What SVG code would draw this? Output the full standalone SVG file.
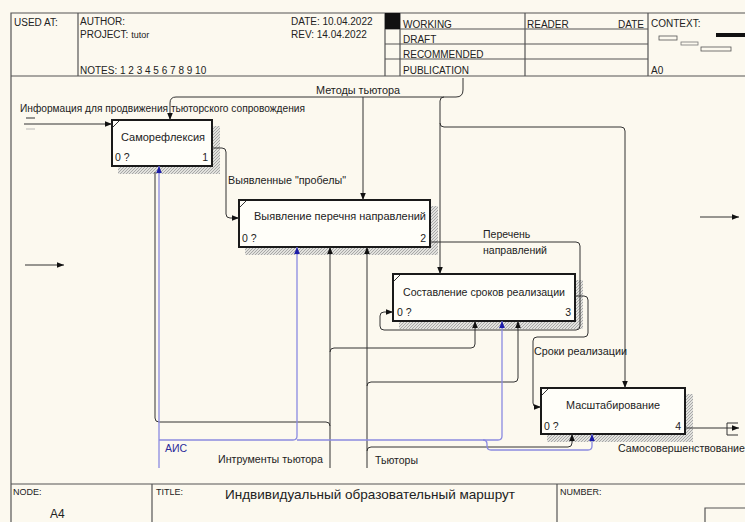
<svg xmlns="http://www.w3.org/2000/svg" width="745" height="522" viewBox="0 0 745 522">
<defs>
<style>
text{font-family:"Liberation Sans",Arial,sans-serif;fill:#222;}
.hd{font-size:10px;}
.sm{font-size:9px;}
.lb{font-size:10.5px;}
.bx{font-size:11px;text-anchor:middle;}
.frm{stroke:#555;stroke-width:1.2;fill:none;}
.box{fill:#fffef9;stroke:#1a1a1a;stroke-width:2;}
.shd{fill:url(#hatch);stroke:none;}
.c{fill:none;stroke:#333;stroke-width:1;}
.cb{fill:none;stroke:#8a8ae0;stroke-width:1.3;}
</style>
<pattern id="hatch" width="3" height="3" patternUnits="userSpaceOnUse">
<rect width="3" height="3" fill="#e2e2de"/>
<path d="M0,3 L3,0" stroke="#999" stroke-width="0.8"/>
</pattern>
<marker id="ah" viewBox="0 0 10 10" refX="10" refY="5" markerWidth="7" markerHeight="7" orient="auto" markerUnits="userSpaceOnUse">
<path d="M0,1 L10,5 L0,9 Z" fill="#111"/>
</marker>
<marker id="ahb" viewBox="0 0 10 10" refX="10" refY="5" markerWidth="7" markerHeight="7" orient="auto" markerUnits="userSpaceOnUse">
<path d="M0,1 L10,5 L0,9 Z" fill="#1c1ca8"/>
</marker>
</defs>
<rect width="745" height="522" fill="#fcf9ef"/>

<g id="frame">
<path class="frm" d="M11,522 V13 H745"/>
<path class="frm" d="M11,76 H745"/>
<path class="frm" d="M11,484 H745"/>
<path class="frm" d="M78,13 V76 M385,13 V76 M400,13 V76 M525,13 V76 M648,13 V76"/>
<path class="frm" d="M385,29 H648 M385,44 H648 M385,59 H648"/>
<rect x="385" y="13" width="15" height="16" fill="#111"/>
<path class="frm" d="M152,484 V522 M557,484 V522"/>
<path class="frm" d="M705,522 V508 H745"/>
<text class="hd" x="14" y="26">USED AT:</text>
<text class="hd" x="80" y="25">AUTHOR:</text>
<text class="hd" x="80" y="38">PROJECT: <tspan class="sm">tutor</tspan></text>
<text class="hd" x="80" y="74">NOTES:  1  2  3  4  5  6  7  8  9  10</text>
<text class="hd" x="291" y="25">DATE:  10.04.2022</text>
<text class="hd" x="291" y="38">REV:    14.04.2022</text>
<text class="hd" x="403" y="28">WORKING</text>
<text class="hd" x="403" y="43">DRAFT</text>
<text class="hd" x="403" y="58">RECOMMENDED</text>
<text class="hd" x="403" y="74">PUBLICATION</text>
<text class="hd" x="527" y="28">READER</text>
<text class="hd" x="618" y="28">DATE</text>
<text class="hd" x="651" y="27">CONTEXT:</text>
<text class="hd" x="651" y="74">A0</text>
<rect x="659" y="36" width="18" height="4" fill="none" stroke="#555" stroke-width="0.8"/>
<rect x="681" y="42" width="17" height="3" fill="none" stroke="#777" stroke-width="0.8"/>
<rect x="701" y="47" width="30" height="4" fill="none" stroke="#555" stroke-width="0.8"/>
<rect x="716" y="33" width="29" height="4" fill="#111"/>
<text class="sm" x="13" y="495">NODE:</text>
<text x="50" y="518" style="font-size:12px">A4</text>
<text class="sm" x="156" y="495">TITLE:</text>
<text x="225" y="499" style="font-size:13px" textLength="290" lengthAdjust="spacingAndGlyphs">Индвивидуальный образовательный маршрут</text>
<text class="sm" x="560" y="495">NUMBER:</text>
</g>

<g id="node-1">
<path class="shd" d="M212,126 H220 V174 H118 V166 H212 Z"/>
<rect class="box" x="112" y="120" width="100" height="46"/>
<path d="M113,127 L119,121" stroke="#333" stroke-width="1"/>
<text class="bx" x="163" y="141">Саморефлексия</text>
<text class="lb" x="115" y="161">0 ?</text>
<text class="lb" x="208" y="161" text-anchor="end">1</text>
</g>

<g id="node-2">
<path class="shd" d="M430,206 H438 V255 H245 V247 H430 Z"/>
<rect class="box" x="239" y="200" width="191" height="47"/>
<path d="M240,207 L246,201" stroke="#333" stroke-width="1"/>
<text class="bx" x="340" y="220" textLength="172" lengthAdjust="spacingAndGlyphs">Выявление перечня направлений</text>
<text class="lb" x="242" y="242">0 ?</text>
<text class="lb" x="426" y="242" text-anchor="end">2</text>
</g>

<g id="node-3">
<path class="shd" d="M575,280 H583 V329 H399 V321 H575 Z"/>
<rect class="box" x="393" y="274" width="182" height="47"/>
<path d="M394,281 L400,275" stroke="#333" stroke-width="1"/>
<text class="bx" x="484" y="296" textLength="162" lengthAdjust="spacingAndGlyphs">Составление сроков реализации</text>
<text class="lb" x="397" y="316">0 ?</text>
<text class="lb" x="571" y="316" text-anchor="end">3</text>
</g>

<g id="node-4">
<path class="shd" d="M685,394 H693 V442 H547 V434 H685 Z"/>
<rect class="box" x="541" y="388" width="144" height="46"/>
<path d="M542,395 L548,389" stroke="#333" stroke-width="1"/>
<text class="bx" x="613" y="409" textLength="94" lengthAdjust="spacingAndGlyphs">Масштабирование</text>
<text class="lb" x="544" y="430">0 ?</text>
<text class="lb" x="681" y="430" text-anchor="end">4</text>
</g>

<g id="connectors">
<path class="c" d="M24,124 H112" marker-end="url(#ah)"/>
<path class="c" d="M26,118 H35"/>
<path d="M26,129 H35" stroke="#aaa" stroke-width="0.8"/>
<path class="c" d="M463,78 V90 Q463,97 456,97 H176 Q170,97 170,103 V120" marker-end="url(#ah)"/>
<path class="c" d="M363,97 V200" marker-end="url(#ah)"/>
<path class="c" d="M444,97 Q440,97 440,101 V274" marker-end="url(#ah)"/>
<path class="c" d="M440,123 Q440,127 444,127 H621 Q625,127 625,131 V388" marker-end="url(#ah)"/>
<path class="c" d="M212,148 H222 Q226,148 226,152 V214 Q226,218 230,218 H239" marker-end="url(#ah)"/>
<path class="c" d="M430,242 H576 Q580,242 580,246 V326 Q580,330 576,330 H384 Q380,330 380,326 V316 Q380,312 384,312 H393" marker-end="url(#ah)"/>
<path class="c" d="M575,296 H584 Q588,296 588,300 V333 Q588,337 584,337 H537 Q533,337 533,341 V403 Q533,407 537,407 H541" marker-end="url(#ah)"/>
<path class="c" d="M685,428 H739" marker-end="url(#ah)"/>
<path class="c" d="M738,423 H727 V435 H738"/>
<path class="c" d="M330,468 V247" marker-end="url(#ah)"/>
<path class="c" d="M330,352 Q330,348 334,348 H471 Q475,348 475,344 V321" marker-end="url(#ah)"/>
<path class="c" d="M330,426 Q330,422 326,422 H159 Q155,422 155,418 V172"/>
<path class="c" d="M367,468 V247" marker-end="url(#ah)"/>
<path class="c" d="M367,386 Q367,382 371,382 H514 Q518,382 518,378 V321" marker-end="url(#ah)"/>
<path class="c" d="M367,451 Q367,447 371,447 H568 Q572,447 572,443 V434" marker-end="url(#ah)"/>
<path class="cb" d="M159,468 V166" marker-end="url(#ahb)"/>
<path class="cb" d="M159,440 H293 Q297,440 297,436 V247" marker-end="url(#ahb)"/>
<path class="cb" d="M297,440 H498 Q502,440 502,436 V321" marker-end="url(#ahb)"/>
<path class="cb" d="M483,440 Q487,440 487,444 V446 Q487,450 491,450 H588 Q592,450 592,446 V434" marker-end="url(#ahb)"/>
<path class="c" d="M25,265 H64" marker-end="url(#ah)"/>
<path class="c" d="M700,217 H739" marker-end="url(#ah)"/>
<text class="lb" x="20" y="112" textLength="285" lengthAdjust="spacingAndGlyphs">Информация для продвижения тьюторского сопровождения</text>
<text class="lb" x="316" y="94" textLength="84" lengthAdjust="spacingAndGlyphs">Методы тьютора</text>
<text class="lb" x="228" y="184" textLength="118" lengthAdjust="spacingAndGlyphs">Выявленные "пробелы"</text>
<text class="lb" x="483" y="238">Перечень</text>
<text class="lb" x="483" y="254" textLength="64" lengthAdjust="spacingAndGlyphs">направлений</text>
<text class="lb" x="534" y="355" textLength="93" lengthAdjust="spacingAndGlyphs">Сроки реализации</text>
<text class="lb" x="618" y="452" textLength="127" lengthAdjust="spacingAndGlyphs">Самосовершенствование</text>
<text class="lb" x="165" y="452" style="fill:#2b2b9a">АИС</text>
<text class="lb" x="218" y="463" textLength="105" lengthAdjust="spacingAndGlyphs">Интрументы тьютора</text>
<text class="lb" x="375" y="464">Тьюторы</text>
</g>
</svg>
